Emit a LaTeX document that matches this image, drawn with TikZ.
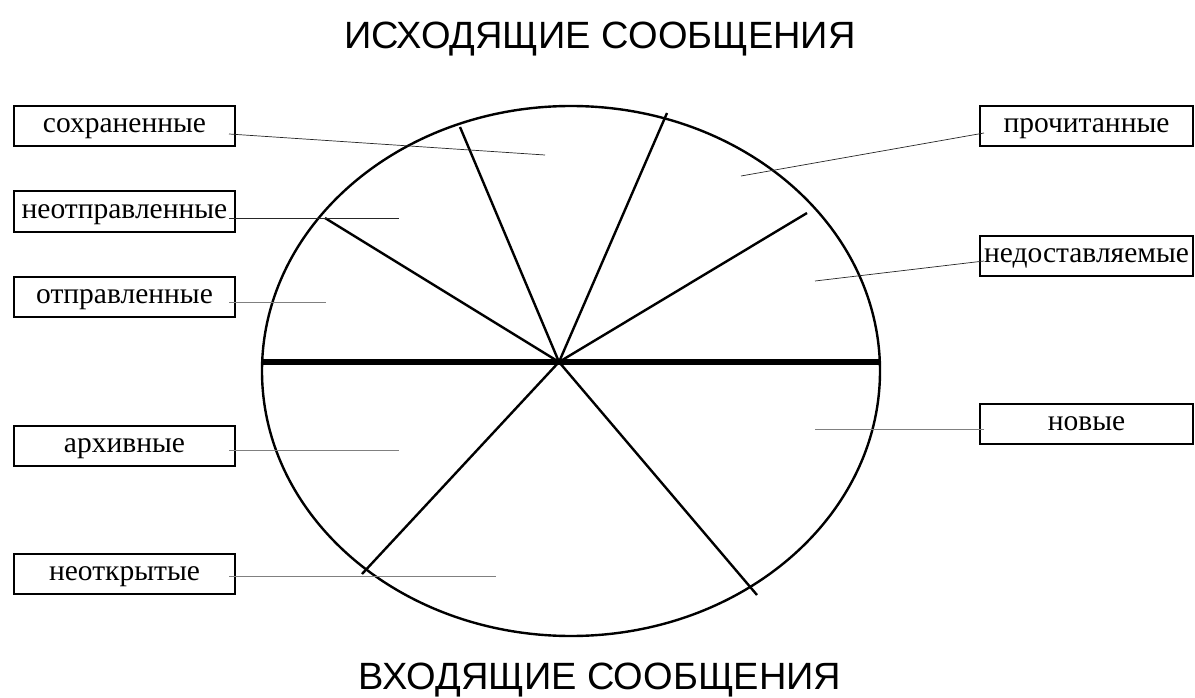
\documentclass[tikz,border=0pt]{standalone}
\usepackage{fontspec}
\setmainfont{Liberation Serif}
\newfontfamily\headfont{Liberation Sans}
\usepackage{tikz}
\usetikzlibrary{positioning}

\begin{document}
\begin{tikzpicture}[x=1pt,y=-1pt,
		box/.style={draw,line width=2pt,fill=white,minimum width=221pt,minimum height=40pt,
			inner sep=0pt,text height=13.5pt,text depth=0pt,font=\fontsize{29.5}{31}\selectfont},
		head/.style={anchor=base,font=\headfont\fontsize{38}{40}\selectfont},
		lead/.style={line width=0.7pt,black!85},
		leadg/.style={line width=1pt,black!50},
		spoke/.style={line width=2.4pt}]
	
	\fill[white] (0,0) rectangle (1195,698);
	\useasboundingbox (0,0) rectangle (1195,698);
	
	% titles
	\node[head] (ishod) at (600,49) {ИСХОДЯЩИЕ СООБЩЕНИЯ};
	\node[head] (vkhod) at (600,689) {ВХОДЯЩИЕ СООБЩЕНИЯ};
	
	% circle with sectors
	\coordinate (hub) at (559,362);
	\coordinate (s1) at (460,127);
	\coordinate (s2) at (667,113);
	\coordinate (s3) at (807,213);
	\coordinate (s4) at (325,218);
	\coordinate (s5) at (362,574);
	\coordinate (s6) at (757,595);
	\coordinate (diaL) at (262,362);
	\coordinate (diaR) at (880,362);
	
	\draw[line width=2.4pt] (571,371) ellipse (309 and 265);
	\draw[line width=6pt] (diaL) -- (diaR);
	\foreach \s in {s1,s2,s3,s4,s5,s6}
		\draw[spoke] (hub) -- (\s);
	
	% labels
	\node[box] (sokhr) at (124.5,126) {сохраненные};
	\node[box] (neotpr) at (124.5,211.5) {неотправленные};
	\node[box] (otpr) at (124.5,297) {отправленные};
	\node[box] (arkh) at (124.5,445.5) {архивные};
	\node[box] (neotkr) at (124.5,573.5) {неоткрытые};
	\node[box,minimum width=213pt] (prochit) at (1086.5,126) {прочитанные};
	\node[box,minimum width=213pt] (nedost) at (1086.5,256) {недоставляемые};
	\node[box,minimum width=213pt] (novye) at (1086.5,424) {новые};
	
	% leader lines
	\coordinate (t1) at (545,155);
	\coordinate (t2) at (399,218);
	\coordinate (t3) at (326,302);
	\coordinate (t4) at (399,450);
	\coordinate (t5) at (496,576);
	\coordinate (t6) at (741,176);
	\coordinate (t7) at (815,281);
	\coordinate (t8) at (815,429);
	
	\draw[lead] ([xshift=-7pt,yshift=-8pt]sokhr.east) -- (t1);
	\draw[lead] ([xshift=-7pt,yshift=-6.5pt]neotpr.east) -- (t2);
	\draw[leadg] ([xshift=-7pt,yshift=-5pt]otpr.east) -- (t3);
	\draw[leadg] ([xshift=-7pt,yshift=-4.5pt]arkh.east) -- (t4);
	\draw[leadg] ([xshift=-7pt,yshift=-2.5pt]neotkr.east) -- (t5);
	\draw[lead] ([xshift=5pt,yshift=-7pt]prochit.west) -- (t6);
	\draw[lead] ([xshift=5pt,yshift=-5pt]nedost.west) -- (t7);
	\draw[leadg] ([xshift=5pt,yshift=-5pt]novye.west) -- (t8);
	
\end{tikzpicture}
\end{document}
